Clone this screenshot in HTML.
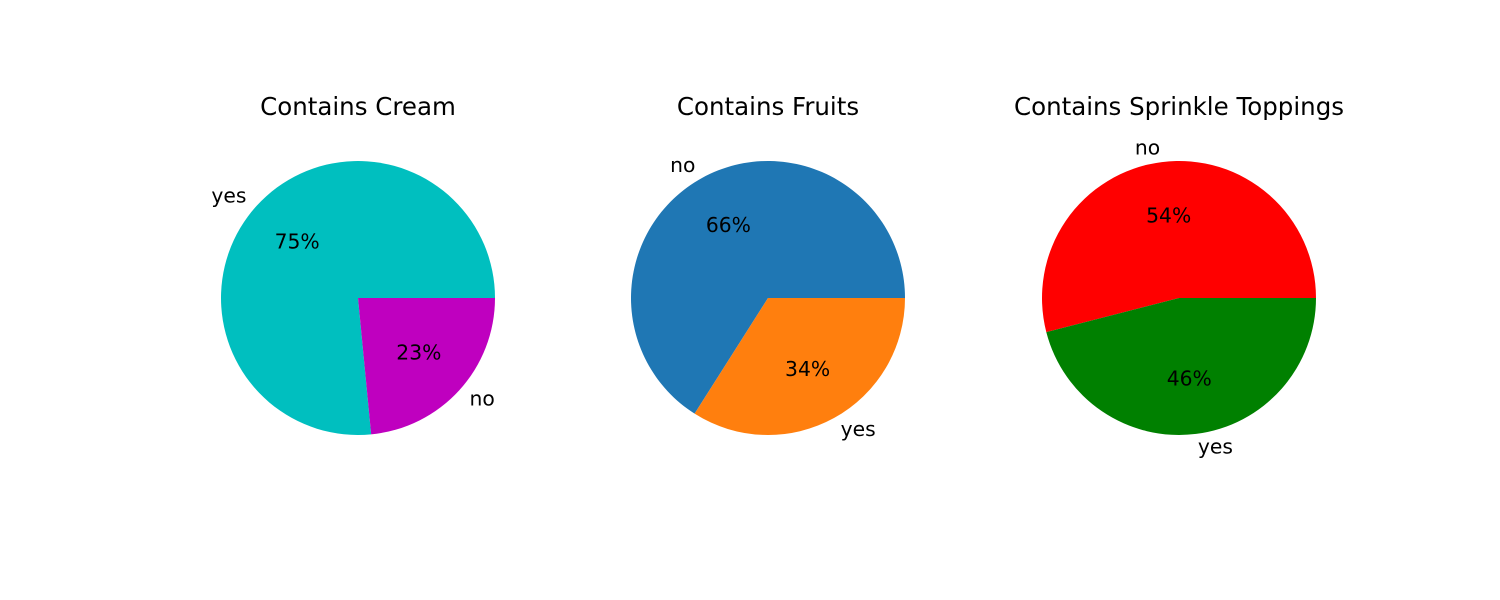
<!DOCTYPE html>
<html><head><meta charset="utf-8"><style>
body{margin:0;background:#fff;}
svg{display:block;font-family:"DejaVu Sans","Liberation Sans",sans-serif;}
</style></head><body>
<svg id="chart" width="1500" height="600"></svg>
<script>
const titles = ["Contains Cream", "Contains Fruits", "Contains Sprinkle Toppings"];
const labelsCream = ["yes", "no"];
const valuesCream = [75, 23];
const labelsFruits = ["no", "yes"];
const valuesFruits = [66, 34];
const labelsSprinkle = ["no", "yes"];
const valuesSprinkle = [54, 46];
const colorsCream = ["#00bfbf", "#bf00bf"];
const colorsFruits = ["#1f77b4", "#ff7f0e"];
const colorsSprinkle = ["#ff0000", "#008000"];

const svg = document.getElementById('chart');
const NS = 'http://www.w3.org/2000/svg';
const centersX = [358, 768, 1179];
const cy = 298, R = 137;
const pies = [[labelsCream, valuesCream, colorsCream],[labelsFruits, valuesFruits, colorsFruits],[labelsSprinkle, valuesSprinkle, colorsSprinkle]];

function mk(tag, attrs){const e=document.createElementNS(NS,tag);for(const k in attrs)e.setAttribute(k,attrs[k]);return e;}

pies.forEach((p, i) => {
  const [labels, values, colors] = p;
  const cx = centersX[i];
  const g = mk('g', {});
  
  
  svg.appendChild(g);
  const t = mk('text', {x: cx, y: 115, 'text-anchor': 'middle', 'font-size': 24.5, fill: '#000'});
  t.textContent = titles[i];
  
  
  g.appendChild(t);
  const total = values.reduce((a,b)=>a+b,0);
  let a0 = 0;
  values.forEach((v, j) => {
    const sweep = v / total * 2 * Math.PI;
    const a1 = a0 + sweep;
    const x0 = cx + R*Math.cos(a0), y0 = cy - R*Math.sin(a0);
    const x1 = cx + R*Math.cos(a1), y1 = cy - R*Math.sin(a1);
    const large = sweep > Math.PI ? 1 : 0;
    const path = mk('path', {d: `M${cx},${cy} L${x0},${y0} A${R},${R} 0 ${large} 0 ${x1},${y1} Z`, fill: colors[j]});
    
    
    g.appendChild(path);
    const mid = (a0 + a1) / 2;
    const lx = cx + 1.1*R*Math.cos(mid), ly = cy - 1.1*R*Math.sin(mid);
    const lab = mk('text', {x: lx, y: ly + 6, 'text-anchor': Math.cos(mid) < 0 ? 'end' : 'start', 'font-size': 20.3, fill: '#000'});
    lab.textContent = labels[j];
    
    
    g.appendChild(lab);
    const px = cx + 0.6*R*Math.cos(mid), py = cy - 0.6*R*Math.sin(mid);
    const pct = mk('text', {x: px, y: py + 6, 'text-anchor': 'middle', 'font-size': 20.3, fill: '#000'});
    pct.textContent = v + '%';
    
    
    g.appendChild(pct);
    a0 = a1;
  });
});
</script>
</body></html>
